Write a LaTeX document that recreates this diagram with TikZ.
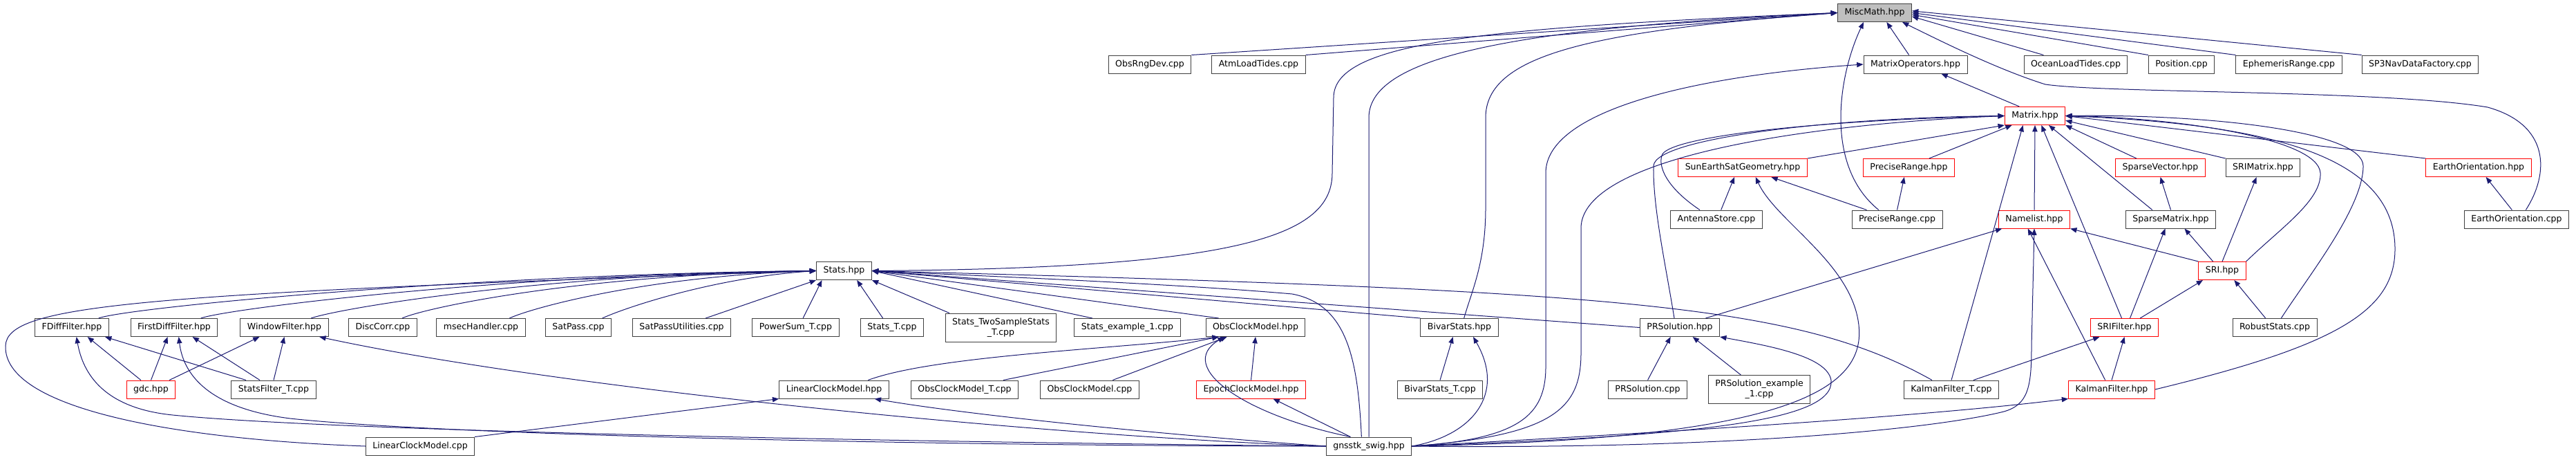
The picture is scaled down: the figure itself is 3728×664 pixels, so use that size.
\documentclass[tikz,border=0pt]{standalone}
\usepackage{fontspec}
\setmainfont{DejaVu Sans}
\usetikzlibrary{arrows.meta}
\definecolor{dxEdge}{HTML}{191970}
\definecolor{dxBorder}{HTML}{404040}
\definecolor{dxRed}{HTML}{FF0000}
\definecolor{dxCur}{HTML}{BFBFBF}
\tikzset{
  file/.style={
    draw=dxBorder, fill=white, line width=0.75pt, minimum height=19.5pt,
    inner xsep=7.5pt, inner ysep=0pt, align=center,
    font=\fontsize{9.4}{11}\selectfont
  },
  filered/.style={file, draw=dxRed},
  filecur/.style={file, fill=dxCur},
  filetwo/.style={file, minimum height=30.75pt},
  dep/.style={-{Triangle[length=7pt,width=5.5pt]}, draw=dxEdge, line width=0.75pt}
}

\begin{document}
\begin{tikzpicture}[x=0.75pt, y=-0.75pt]
  \useasboundingbox (0,0) rectangle (3728,664);
  % top rows
  \node[filecur] (misc) at (2713,18.5) {MiscMath.hpp};
  \node[file] (obsrng) at (1664,93) {ObsRngDev.cpp};
  \node[file] (atmload) at (1821.5,93) {AtmLoadTides.cpp};
  \node[file] (matop) at (2772,93) {MatrixOperators.hpp};
  \node[file] (ocean) at (3004,93) {OceanLoadTides.cpp};
  \node[file] (position) at (3157,93) {Position.cpp};
  \node[file] (ephem) at (3312.5,93) {EphemerisRange.cpp};
  \node[file] (sp3) at (3502.5,93) {SP3NavDataFactory.cpp};
  \node[filered] (matrix) at (2945,167.5) {Matrix.hpp};
  \node[filered] (sunearth) at (2522,242.5) {SunEarthSatGeometry.hpp};
  \node[filered] (precrange) at (2762.5,242.5) {PreciseRange.hpp};
  \node[filered] (sparsevec) at (3126.5,242.5) {SparseVector.hpp};
  \node[file] (srimatrix) at (3275,242.5) {SRIMatrix.hpp};
  \node[filered] (earthhpp) at (3587,242.5) {EarthOrientation.hpp};
  \node[file] (antenna) at (2484,317) {AntennaStore.cpp};
  \node[file] (preccpp) at (2745.5,317) {PreciseRange.cpp};
  \node[filered] (namelist) at (2944,317) {Namelist.hpp};
  \node[file] (sparsemat) at (3141.5,317) {SparseMatrix.hpp};
  \node[file] (earthcpp) at (3642,317) {EarthOrientation.cpp};
  \node[file] (stats) at (1221.5,391.5) {Stats.hpp};
  \node[filered] (sri) at (3216,391.5) {SRI.hpp};
  % row of Stats users
  \node[file] (fdiff) at (104,473.5) {FDiffFilter.hpp};
  \node[file] (firstdiff) at (252,473.5) {FirstDiffFilter.hpp};
  \node[file] (window) at (411.5,473.5) {WindowFilter.hpp};
  \node[file] (disccorr) at (554,473.5) {DiscCorr.cpp};
  \node[file] (msec) at (696,473.5) {msecHandler.cpp};
  \node[file] (satpass) at (837,473.5) {SatPass.cpp};
  \node[file] (satpassutil) at (986.5,473.5) {SatPassUtilities.cpp};
  \node[file] (powersum) at (1151.5,473.5) {PowerSum\_T.cpp};
  \node[file] (statsT) at (1291,473.5) {Stats\_T.cpp};
  \node[filetwo] (twosample) at (1448.5,473.5) {Stats\_TwoSampleStats\\\_T.cpp};
  \node[file] (statsex) at (1631.5,473.5) {Stats\_example\_1.cpp};
  \node[file] (obsclock) at (1817,473.5) {ObsClockModel.hpp};
  \node[file] (bivar) at (2112,473.5) {BivarStats.hpp};
  \node[file] (prsol) at (2431,473.5) {PRSolution.hpp};
  \node[filered] (srifilter) at (3074.5,473.5) {SRIFilter.hpp};
  \node[file] (robust) at (3292,473.5) {RobustStats.cpp};
  \node[filered] (gdc) at (218.5,563) {gdc.hpp};
  \node[file] (statsfilt) at (396,563) {StatsFilter\_T.cpp};
  \node[file] (lchpp) at (1207,563) {LinearClockModel.hpp};
  \node[file] (obsclockT) at (1396,563) {ObsClockModel\_T.cpp};
  \node[file] (obsclockcpp) at (1577,563) {ObsClockModel.cpp};
  \node[filered] (epoch) at (1810.5,563) {EpochClockModel.hpp};
  \node[file] (bivarT) at (2084,563) {BivarStats\_T.cpp};
  \node[file] (prsolcpp) at (2384.5,563) {PRSolution.cpp};
  \node[filetwo] (prsolex) at (2546,563) {PRSolution\_example\\\_1.cpp};
  \node[file] (kalmanT) at (2824,563) {KalmanFilter\_T.cpp};
  \node[filered] (kalman) at (3056,563) {KalmanFilter.hpp};
  \node[file] (lccpp) at (608,645) {LinearClockModel.cpp};
  \node[file] (swig) at (1981,645) {gnsstk\_swig.hpp};

  % into MiscMath.hpp
  \draw[dep] (obsrng.north east) -- (misc.west);
  \draw[dep] (atmload.north east) -- (misc.west);
  \draw[dep] ([xshift=-7pt]matop.north) -- ([xshift=13pt]misc.south);
  \draw[dep] ([xshift=-35pt]ocean.north) -- ([yshift=-4pt]misc.east);
  \draw[dep] (position.north west) -- ([yshift=-2pt]misc.east);
  \draw[dep] (ephem.north west) -- (misc.east);
  \draw[dep] (sp3.north west) -- ([yshift=2pt]misc.east);
  \draw[dep] ([xshift=-20pt]preccpp.north) .. controls (2640,240) and (2660,110) .. ([xshift=-12pt]misc.south);
  \draw[dep] ([xshift=10pt]earthcpp.north) .. controls (3690,250) and (3690,180) .. (3600,155)
    .. controls (3450,130) and (3050,135) .. (2960,122)
    .. controls (2890,100) and (2810,60) .. ([xshift=30pt]misc.south);
  \draw[dep] (stats.east) .. controls (1800,388) and (1928,340) .. (1928,250) -- (1930,140)
    .. controls (1932,60) and (2150,40) .. (misc.west);
  \draw[dep] (swig.north) -- (1981,170) .. controls (1981,80) and (2200,40) .. (misc.west);
  \draw[dep] ([xshift=5pt]bivar.north) .. controls (2130,420) and (2150,380) .. (2150,300) -- (2150,170)
    .. controls (2150,80) and (2300,45) .. (misc.west);

  % MatrixOperators.hpp and Matrix.hpp
  \draw[dep] ([xshift=-17pt]matrix.north) -- ([xshift=28pt]matop.south);
  \draw[dep] (swig.east) .. controls (2200,635) and (2237,600) .. (2237,530) -- (2237,250)
    .. controls (2237,160) and (2450,110) .. (matop.west);
  \draw[dep] (swig.east) .. controls (2250,630) and (2288,590) .. (2288,510) -- (2288,330)
    .. controls (2288,230) and (2600,180) .. (matrix.west);
  \draw[dep] ([xshift=-6pt]prsol.north) .. controls (2410,380) and (2392,300) .. (2393,240)
    .. controls (2394,200) and (2650,170) .. (matrix.west);
  \draw[dep] ([xshift=-18pt]antenna.north) .. controls (2410,270) and (2400,240) .. (2405,225)
    .. controls (2410,200) and (2600,175) .. (matrix.west);
  \draw[dep] (sunearth.north east) -- (matrix.south west);
  \draw[dep] ([xshift=22pt]precrange.north) -- ([xshift=-25pt]matrix.south);
  \draw[dep] (kalmanT.north) -- ([xshift=-13pt]matrix.south);
  \draw[dep] (namelist.north) -- (matrix.south);
  \draw[dep] ([xshift=-3pt]srifilter.north) -- ([xshift=7pt]matrix.south);
  \draw[dep] ([xshift=-20pt]sparsemat.north) -- ([xshift=15pt]matrix.south);
  \draw[dep] ([xshift=-26pt]sparsevec.north) -- (matrix.south east);
  \draw[dep] (srimatrix.north west) -- ([yshift=-5pt]matrix.east);
  \draw[dep] (earthhpp.north west) -- (matrix.east);
  \draw[dep] (sri.north east) .. controls (3300,330) and (3360,290) .. (3358,250)
    .. controls (3355,200) and (3150,170) .. (matrix.east);
  \draw[dep] ([xshift=7pt]robust.north) .. controls (3340,400) and (3420,300) .. (3420,240)
    .. controls (3420,190) and (3200,165) .. (matrix.east);
  \draw[dep] (kalman.east) .. controls (3380,500) and (3466,450) .. (3466,360)
    .. controls (3466,230) and (3300,180) .. (matrix.east);

  % middle files
  \draw[dep] ([xshift=5pt]antenna.north) -- ([xshift=-9pt]sunearth.south);
  \draw[dep] ([xshift=-33pt]preccpp.north) -- ([xshift=31pt]sunearth.south);
  \draw[dep] (preccpp.north) -- ([xshift=-5pt]precrange.south);
  \draw[dep] (swig.east) .. controls (2600,635) and (2700,560) .. (2690,470)
    .. controls (2680,380) and (2570,320) .. ([xshift=14pt]sunearth.south);
  \draw[dep] (sparsemat.north) -- (sparsevec.south);
  \draw[dep] (sri.north) -- ([xshift=-7pt]srimatrix.south);
  \draw[dep] ([xshift=-10pt]sri.north) -- ([xshift=15pt]sparsemat.south);
  \draw[dep] (sri.north west) -- (namelist.south east);
  \draw[dep] ([xshift=-5pt]earthcpp.north) -- ([xshift=8pt]earthhpp.south);
  \draw[dep] ([xshift=28pt]prsol.north) -- ([xshift=-35pt]namelist.south);
  \draw[dep] ([xshift=-7pt]kalman.north) -- ([xshift=-7pt]namelist.south);
  \draw[dep] (swig.east) .. controls (2500,650) and (2800,620) .. (2900,595)
    .. controls (2935,585) and (2940,560) .. (2940,500) -- (namelist.south);

  % filters
  \draw[dep] ([xshift=24pt]kalmanT.north) -- ([xshift=-27pt]srifilter.south);
  \draw[dep] (kalman.north) -- (srifilter.south);
  \draw[dep] ([xshift=17pt]srifilter.north) -- ([xshift=-21pt]sri.south);
  \draw[dep] ([xshift=6pt]srifilter.north) -- ([xshift=-6pt]sparsemat.south);
  \draw[dep] ([xshift=-10pt]robust.north) -- ([xshift=13pt]sri.south);
  \draw[dep] (swig.east) .. controls (2500,620) and (2800,600) .. (kalman.south west);

  % into Stats.hpp
  \draw[dep] ([xshift=29pt]fdiff.north) .. controls +(40,-15) and +(-500,5) .. (stats.west);
  \draw[dep] ([xshift=29pt]firstdiff.north) .. controls +(40,-14) and +(-450,5) .. (stats.west);
  \draw[dep] ([xshift=29pt]window.north) .. controls +(40,-14) and +(-400,5) .. (stats.west);
  \draw[dep] ([xshift=21pt]disccorr.north) .. controls +(30,-14) and +(-350,6) .. (stats.west);
  \draw[dep] ([xshift=31pt]msec.north) .. controls +(30,-14) and +(-250,8) .. (stats.west);
  \draw[dep] ([xshift=26pt]satpass.north) .. controls +(30,-14) and +(-150,10) .. (stats.west);
  \draw[dep] ([xshift=26pt]satpassutil.north) -- (stats.south west);
  \draw[dep] ([xshift=8pt]powersum.north) -- ([xshift=-24pt]stats.south);
  \draw[dep] ([xshift=-10pt]statsT.north) -- ([xshift=14pt]stats.south);
  \draw[dep] ([xshift=-56pt]twosample.north) -- (stats.south east);
  \draw[dep] ([xshift=-38pt]statsex.north) -- (stats.east);
  \draw[dep] ([xshift=-40pt]obsclock.north) -- (stats.east);
  \draw[dep] (bivar.north west) -- (stats.east);
  \draw[dep] (prsol.west) -- (stats.east);
  \draw[dep] ([xshift=-21pt]kalmanT.north) .. controls (2600,440) and (2350,420) .. (stats.east);
  \draw[dep] ([xshift=-8pt]swig.north) .. controls (1965,520) and (1950,440) .. (1870,425)
    .. controls (1700,410) and (1400,398) .. (stats.east);
  \draw[dep] (lccpp.west) .. controls (250,635) and (5,590) .. (8,500)
    .. controls (10,440) and (200,425) .. (stats.west);

  % filter headers
  \draw[dep] ([xshift=-11pt]gdc.north) -- ([xshift=17pt]fdiff.south);
  \draw[dep] (gdc.north) -- ([xshift=-7pt]firstdiff.south);
  \draw[dep] ([xshift=20pt]gdc.north) -- ([xshift=-27pt]window.south);
  \draw[dep] ([xshift=-30pt]statsfilt.north) -- ([xshift=36pt]fdiff.south);
  \draw[dep] ([xshift=-15pt]statsfilt.north) -- ([xshift=20pt]firstdiff.south);
  \draw[dep] (statsfilt.north) -- (window.south);
  \draw[dep] (swig.west) .. controls (1500,630) and (800,560) .. ([xshift=-10pt]window.south east);
  \draw[dep] (swig.west) .. controls (1400,640) and (500,625) .. (250,600)
    .. controls (150,590) and (120,540) .. ([xshift=5pt]fdiff.south);
  \draw[dep] (swig.west) .. controls (1400,645) and (650,630) .. (420,605)
    .. controls (300,590) and (265,540) .. ([xshift=5pt]firstdiff.south);

  % clock models
  \draw[dep] (swig.west) .. controls (1700,630) and (1400,600) .. ([xshift=44pt]lchpp.south);
  \draw[dep] (lccpp.north east) -- (lchpp.south west);
  \draw[dep] ([xshift=37pt]lchpp.north) .. controls (1350,515) and (1600,505) .. ([xshift=-40pt]obsclock.south);
  \draw[dep] ([xshift=42pt]obsclockT.north) -- ([xshift=-40pt]obsclock.south);
  \draw[dep] ([xshift=25pt]obsclockcpp.north) -- ([xshift=-31pt]obsclock.south);
  \draw[dep] (epoch.north) -- (obsclock.south);
  \draw[dep] ([xshift=-20pt]swig.north) .. controls (1800,600) and (1700,530) .. ([xshift=-34pt]obsclock.south);
  \draw[dep] ([xshift=-20pt]swig.north) -- ([xshift=24pt]epoch.south);

  % BivarStats.hpp and PRSolution.hpp
  \draw[dep] (bivarT.north) -- ([xshift=-7pt]bivar.south);
  \draw[dep] (swig.east) .. controls (2130,630) and (2180,570) .. ([xshift=15pt]bivar.south);
  \draw[dep] (prsolcpp.north) -- ([xshift=-10pt]prsol.south);
  \draw[dep] ([xshift=-20pt]prsolex.north) -- ([xshift=14pt]prsol.south);
  \draw[dep] (swig.east) .. controls (2450,630) and (2655,610) .. (2650,550)
    .. controls (2645,515) and (2560,500) .. (prsol.south east);
\end{tikzpicture}
\end{document}
